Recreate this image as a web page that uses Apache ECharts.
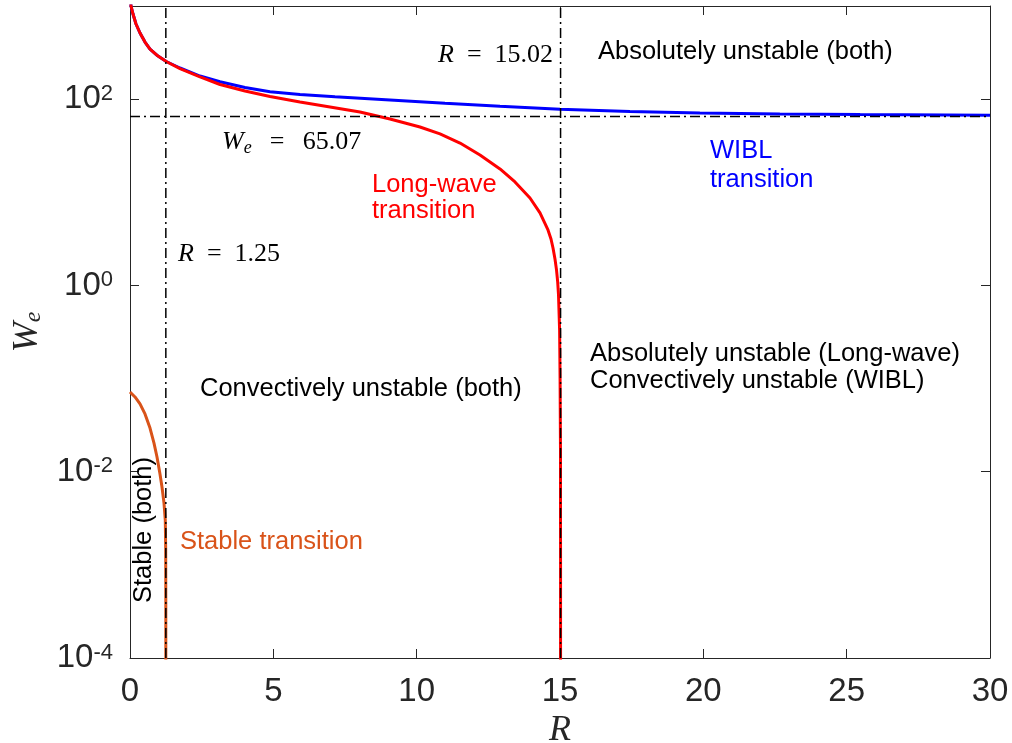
<!DOCTYPE html>
<html><head><meta charset="utf-8">
<script src="https://cdn.jsdelivr.net/npm/echarts@6/dist/echarts.min.js"></script>
<style>html,body{margin:0;padding:0;background:#fff}#c{width:1012px;height:743px}</style>
</head><body><div id="c"></div>
<script>
// ---- data ----
const wiblR  = [0.0174, 0.0349, 0.1047, 0.2093, 0.3488, 0.5233, 0.6977, 0.9767, 1.28, 1.744, 2.442, 3.14, 4.012, 4.884, 5.93, 7.151, 9.07, 10.988, 12.907, 15.0, 17.44, 19.88, 22.67, 25.47, 30.0];
const wiblWe = [1312, 1000, 820, 641, 513, 410, 345, 290, 252, 216, 177, 153.9, 133.4, 120.2, 112.2, 106.2, 97.9, 90.2, 84.0, 77.8, 73.7, 71.0, 69.2, 68.2, 67.3];

const longR  = [0.0174, 0.0349, 0.1047, 0.2093, 0.3488, 0.5233, 0.6977, 0.9767, 1.28, 1.744, 2.442, 3.14, 4.012, 4.884, 5.93, 6.977, 8.023, 9.07, 10.116, 10.814, 11.512, 12.209, 12.907, 13.43, 13.953, 14.302, 14.581, 14.686, 14.756, 14.825, 14.878, 14.919, 14.948, 14.986, 15.003, 15.017, 15.0195, 15.0199];
const longWe = [1312, 1000, 820, 641, 513, 410, 345, 290, 252, 213, 173, 143.6, 122.2, 106.7, 93.1, 82.4, 72.8, 61.2, 50.2, 42.3, 33.8, 25.1, 17.8, 12.9, 8.68, 6.0, 3.94, 3.15, 2.52, 1.92, 1.47, 1.09, 0.789, 0.332, 0.0967, 0.0171, 0.00113, 0.00005];

const stableR  = [0, 0.174, 0.349, 0.523, 0.698, 0.837, 0.942, 1.046, 1.116, 1.186, 1.231, 1.245, 1.249, 1.2499];
const stableWe = [0.0718, 0.0635, 0.0535, 0.0417, 0.0294, 0.0203, 0.0144, 0.00946, 0.00686, 0.00461, 0.00303, 0.0015, 0.0004, 0.00005];

const refR  = [1.25, 15.02];
const refWe = [65.07];

const xTicks = [0, 5, 10, 15, 20, 25, 30];
const yTickExps = [-4, -2, 0, 2];

// ---- chart ----
const xMin = 0, xMax = 30, yMin = 1e-4, yMax = 1e3;
const zip = (a, b) => a.map((v, i) => [v, b[i]]);
const AX = '#262626';
const SANS = '"Liberation Sans", Arial, Helvetica, sans-serif';
const SERIF = '"Liberation Serif", "Times New Roman", serif';
const dashDot = [10, 4, 2, 4];

const refSeries = [];
refR.forEach(r => refSeries.push({
  type: 'line', data: [[r, yMin], [r, yMax]], symbol: 'none', silent: true, z: 5,
  lineStyle: { color: '#000', width: 1.5, type: dashDot }
}));
refWe.forEach(w => refSeries.push({
  type: 'line', data: [[xMin, w], [xMax, w]], symbol: 'none', silent: true, z: 5,
  lineStyle: { color: '#000', width: 1.5, type: dashDot }
}));

const common = { axisLine: { show: true, onZero: false, lineStyle: { color: AX, width: 1 } },
                 splitLine: { show: false } };

const txt = (text, x, y, color, extra) => Object.assign({
  type: 'text', x: x, y: y, silent: true, z: 100,
  style: Object.assign({ text: text, fill: color || '#000', font: '25.5px ' + SANS,
    textAlign: 'left', textVerticalAlign: 'middle' }, extra || {})
});
const mathRich = {
  i: { fontFamily: SERIF, fontStyle: 'italic', fontSize: 26, fill: '#000' },
  sub: { fontFamily: SERIF, fontStyle: 'italic', fontSize: 18, fill: '#000', padding: [12, 0, 0, 0] },
  n: { fontFamily: SERIF, fontSize: 26, fill: '#000' }
};
const mathTxt = (text, x, y) => ({
  type: 'text', x: x, y: y, silent: true, z: 100,
  style: { text: text, rich: mathRich, textAlign: 'left', textVerticalAlign: 'middle', fontFamily: SERIF, fontSize: 26 }
});

const chart = echarts.init(document.getElementById('c'), null, { renderer: 'canvas' });
chart.setOption({
  animation: false,
  backgroundColor: '#fff',
  grid: { left: 130, right: 22, top: 6, bottom: 85, containLabel: false, outerBoundsMode: 'none' },
  xAxis: [
    Object.assign({}, common, {
      type: 'value', min: xMin, max: xMax, interval: 5,
      axisTick: { show: true, inside: true, length: 9, lineStyle: { color: AX } },
      axisLabel: { show: true, color: AX, fontSize: 33, fontFamily: SANS, margin: 17,
        formatter: v => xTicks.includes(v) ? String(v) : '' },
      name: 'R', nameLocation: 'middle', nameGap: 46,
      nameTextStyle: { fontFamily: SERIF, fontStyle: 'italic', fontSize: 36, color: AX }
    }),
    Object.assign({}, common, {
      type: 'value', position: 'top', min: xMin, max: xMax, interval: 5,
      axisTick: { show: true, inside: true, length: 9, lineStyle: { color: AX } },
      axisLabel: { show: false }
    })
  ],
  yAxis: [
    Object.assign({}, common, {
      type: 'log', logBase: 100, min: yMin, max: yMax,
      axisTick: { show: true, inside: true, length: 9, lineStyle: { color: AX } },
      axisLabel: { show: true, color: AX, margin: 17, showMaxLabel: false,
        formatter: v => { const e = Math.round(Math.log10(v)); return yTickExps.includes(e) ? '{b|10}{s|' + e + '}' : ''; },
        rich: {
          b: { fontSize: 33, fontFamily: SANS, color: AX, padding: [8, 0, 0, 0], verticalAlign: 'bottom', lineHeight: 33 },
          s: { fontSize: 22, fontFamily: SANS, color: AX, verticalAlign: 'top', lineHeight: 22 }
        } },
      name: '{w|W}{e|e}', nameLocation: 'middle', nameGap: 84, nameRotate: 90,
      nameTextStyle: { rich: {
        w: { fontFamily: SERIF, fontStyle: 'italic', fontSize: 36, color: AX, lineHeight: 36, verticalAlign: 'top' },
        e: { fontFamily: SERIF, fontStyle: 'italic', fontSize: 24, color: AX, padding: [16, 0, 0, 0], lineHeight: 24, verticalAlign: 'bottom' }
      } }
    }),
    Object.assign({}, common, {
      type: 'log', logBase: 100, min: yMin, max: yMax, position: 'right',
      axisTick: { show: true, inside: true, length: 9, lineStyle: { color: AX } },
      axisLabel: { show: false }
    })
  ],
  series: [
    { name: 'WIBL', type: 'line', data: zip(wiblR, wiblWe), symbol: 'none', smooth: false, clip: true, z: 2,
      lineStyle: { color: '#0000ff', width: 3 } },
    { name: 'Long-wave', type: 'line', data: zip(longR, longWe), symbol: 'none', smooth: false, clip: true, z: 3,
      lineStyle: { color: '#ff0000', width: 3 } },
    { name: 'Stable', type: 'line', data: zip(stableR, stableWe), symbol: 'none', smooth: false, clip: true, z: 3,
      lineStyle: { color: '#d95319', width: 3 } }
  ].concat(refSeries),
  graphic: [
    mathTxt('{i|R}\u2002{n|=}\u2002{n|15.02}', 438, 55),
    txt('Absolutely unstable (both)', 598, 52),
    mathTxt('{i|W}{sub|e}\u2002\u2009{n|=}\u2002\u2009{n|65.07}', 222, 142),
    txt('WIBL', 710, 151, '#0000ff'),
    txt('transition', 710, 180, '#0000ff'),
    txt('Long-wave', 372, 185, '#ff0000'),
    txt('transition', 372, 211, '#ff0000'),
    mathTxt('{i|R}\u2002{n|=}\u2002{n|1.25}', 178, 254),
    txt('Absolutely unstable (Long-wave)', 590, 354),
    txt('Convectively unstable (WIBL)', 590, 381),
    txt('Convectively unstable (both)', 200, 389),
    Object.assign(txt('Stable (both)', 144, 530, '#000', { textAlign: 'center' }), { rotation: Math.PI / 2 }),
    txt('Stable transition', 180, 542, '#d95319')
  ]
});
</script>
</body></html>
